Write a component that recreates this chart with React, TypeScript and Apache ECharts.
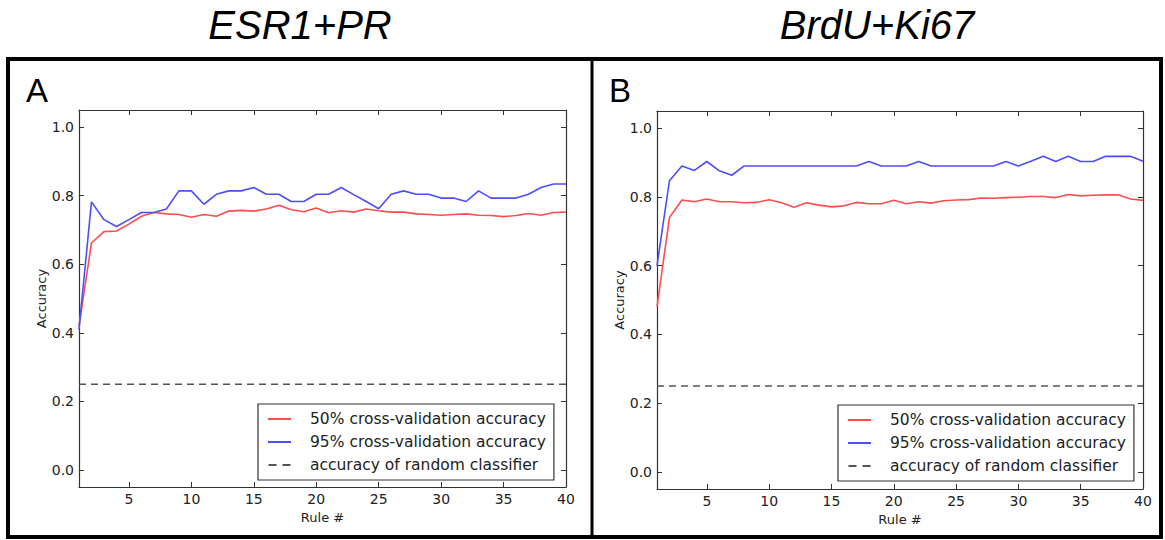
import React, { useEffect, useRef } from "react";
import * as echarts from "echarts";

const rules = [1, 2, 3, 4, 5, 6, 7, 8, 9, 10, 11, 12, 13, 14, 15, 16, 17, 18, 19, 20, 21, 22, 23, 24, 25, 26, 27, 28, 29, 30, 31, 32, 33, 34, 35, 36, 37, 38, 39, 40];

const esrAcc50 = [0.42, 0.662, 0.695, 0.697, 0.717, 0.74, 0.751, 0.747, 0.745, 0.737, 0.745, 0.74, 0.755, 0.757, 0.755, 0.761, 0.772, 0.759, 0.753, 0.764, 0.75, 0.756, 0.752, 0.761, 0.756, 0.752, 0.752, 0.747, 0.745, 0.743, 0.745, 0.747, 0.743, 0.742, 0.739, 0.742, 0.748, 0.743, 0.751, 0.752];
const esrAcc95 = [0.41, 0.782, 0.73, 0.71, 0.73, 0.751, 0.751, 0.761, 0.814, 0.814, 0.775, 0.804, 0.814, 0.814, 0.824, 0.804, 0.804, 0.783, 0.783, 0.804, 0.804, 0.824, 0.803, 0.783, 0.762, 0.804, 0.814, 0.804, 0.804, 0.793, 0.793, 0.783, 0.814, 0.793, 0.793, 0.793, 0.804, 0.824, 0.834, 0.834];
const brdAcc50 = [0.48, 0.74, 0.791, 0.786, 0.794, 0.786, 0.786, 0.783, 0.784, 0.792, 0.783, 0.77, 0.783, 0.776, 0.771, 0.774, 0.784, 0.78, 0.78, 0.79, 0.78, 0.786, 0.782, 0.789, 0.791, 0.792, 0.797, 0.796, 0.798, 0.799, 0.801, 0.801, 0.798, 0.807, 0.803, 0.805, 0.806, 0.806, 0.794, 0.79];
const brdAcc95 = [0.6, 0.847, 0.89, 0.877, 0.903, 0.876, 0.863, 0.89, 0.89, 0.89, 0.89, 0.89, 0.89, 0.89, 0.89, 0.89, 0.89, 0.903, 0.89, 0.89, 0.89, 0.903, 0.89, 0.89, 0.89, 0.89, 0.89, 0.89, 0.903, 0.89, 0.904, 0.918, 0.903, 0.918, 0.903, 0.903, 0.918, 0.918, 0.918, 0.904];
const randomRuleEnds = [1, 40];
const randomAcc = [0.25, 0.25];

const xTicks = [5, 10, 15, 20, 25, 30, 35, 40];
const yTicks = [0.0, 0.2, 0.4, 0.6, 0.8, 1.0];

const panelTitles = ["ESR1+PR", "BrdU+Ki67"];
const panelLetters = ["A", "B"];
const seriesNames = [
  "50% cross-validation accuracy",
  "95% cross-validation accuracy",
  "accuracy of random classifier",
];

const AXIS_COLOR = "#333";
const FONT = "DejaVu Sans";
const SOLID_ICON = "path://M0,0H23V2H0Z";
const DASH_ICON = "path://M0,0H8V2H0ZM14,0H22V2H14Z";

function zip(xs: number[], ys: number[]) {
  return xs.map((x, i) => [x, ys[i]]);
}

function xAxes(grid: number) {
  const common = {
    type: "value" as const,
    gridIndex: grid,
    min: 1,
    max: 40,
    splitLine: { show: false },
    axisLine: { show: true, onZero: false, lineStyle: { color: AXIS_COLOR, width: 1.2 } },
    axisTick: { show: true, inside: true, length: 5, customValues: xTicks, lineStyle: { color: AXIS_COLOR, width: 1 } },
  };
  return [
    {
      ...common,
      position: "bottom",
      axisLabel: { customValues: xTicks, color: "#222", fontSize: 14, fontFamily: FONT, margin: 5 },
      name: "Rule #",
      nameLocation: "middle",
      nameGap: 20,
      nameTextStyle: { color: "#222", fontSize: 13, fontFamily: FONT },
    },
    { ...common, position: "top", axisLabel: { show: false } },
  ];
}

function yAxes(grid: number) {
  const common = {
    type: "value" as const,
    gridIndex: grid,
    min: -0.05,
    max: 1.05,
    splitLine: { show: false },
    axisLine: { show: true, onZero: false, lineStyle: { color: AXIS_COLOR, width: 1.2 } },
    axisTick: { show: true, inside: true, length: 5, customValues: yTicks, lineStyle: { color: AXIS_COLOR, width: 1 } },
  };
  return [
    {
      ...common,
      position: "left",
      axisLabel: {
        customValues: yTicks,
        color: "#222",
        fontSize: 14,
        fontFamily: FONT,
        margin: 5,
        formatter: (v: number) => v.toFixed(1),
      },
      name: "Accuracy",
      nameLocation: "middle",
      nameGap: 30,
      nameTextStyle: { color: "#222", fontSize: 13, fontFamily: FONT },
    },
    { ...common, position: "right", axisLabel: { show: false } },
  ];
}

function panelSeries(axisBase: number, p50: number[], p95: number[]) {
  return [
    {
      name: seriesNames[0],
      type: "line",
      xAxisIndex: axisBase,
      yAxisIndex: axisBase,
      data: zip(rules, p50),
      symbol: "none",
      lineStyle: { color: "#ff4d4d", width: 1.6 },
      itemStyle: { color: "#ff4d4d" },
      z: 3,
    },
    {
      name: seriesNames[1],
      type: "line",
      xAxisIndex: axisBase,
      yAxisIndex: axisBase,
      data: zip(rules, p95),
      symbol: "none",
      lineStyle: { color: "#4d4dff", width: 1.6 },
      itemStyle: { color: "#4d4dff" },
      z: 4,
    },
    {
      name: seriesNames[2],
      type: "line",
      xAxisIndex: axisBase,
      yAxisIndex: axisBase,
      data: zip(randomRuleEnds, randomAcc),
      symbol: "none",
      lineStyle: { color: "#555", width: 1.5, type: [7, 5] },
      itemStyle: { color: "#555" },
      z: 2,
    },
  ];
}

function legendFor(left: number, top: number) {
  return {
    left,
    top,
    orient: "vertical",
    data: [
      { name: seriesNames[0], icon: SOLID_ICON },
      { name: seriesNames[1], icon: SOLID_ICON },
      { name: seriesNames[2], icon: DASH_ICON },
    ],
    selectedMode: false,
    backgroundColor: "#fff",
    borderColor: "#333",
    borderWidth: 1.2,
    borderRadius: 0,
    padding: [6, 8, 6, 10],
    itemGap: 5,
    itemWidth: 23,
    itemHeight: 2,
    itemStyle: { borderWidth: 0 },
    lineStyle: { width: 0 },
    textStyle: { fontFamily: FONT, fontSize: 15.5, color: "#222", lineHeight: 18, padding: [0, 0, 0, 14] },
  };
}

export default function App() {
  const ref = useRef<HTMLDivElement>(null);

  useEffect(() => {
    document.body.style.margin = "0";
    document.body.style.overflow = "hidden";
    const chart = echarts.init(ref.current!, undefined, { renderer: "svg" });
    chart.setOption({
      animation: false,
      backgroundColor: "#fff",
      grid: [
        { left: 79, top: 110, width: 487, height: 377 },
        { left: 657, top: 111, width: 486, height: 378 },
      ],
      xAxis: [...xAxes(0), ...xAxes(1)],
      yAxis: [...yAxes(0), ...yAxes(1)],
      legend: [legendFor(258, 404), legendFor(838, 405)],
      series: [...panelSeries(0, esrAcc50, esrAcc95), ...panelSeries(2, brdAcc50, brdAcc95)],
      graphic: [
        {
          type: "rect",
          shape: { x: 8, y: 59, width: 1153, height: 478 },
          style: { fill: "none", stroke: "#000", lineWidth: 4 },
          z: 10,
        },
        {
          type: "line",
          shape: { x1: 592, y1: 59, x2: 592, y2: 537 },
          style: { stroke: "#000", lineWidth: 3 },
          z: 10,
        },
        {
          type: "text",
          x: 300,
          y: 25,
          style: { text: panelTitles[0], font: 'italic 40px "Liberation Sans"', fill: "#000", align: "center", verticalAlign: "middle" },
        },
        {
          type: "text",
          x: 877,
          y: 25,
          style: { text: panelTitles[1], font: 'italic 40px "Liberation Sans"', fill: "#000", align: "center", verticalAlign: "middle" },
        },
        {
          type: "text",
          x: 26,
          y: 90,
          style: { text: panelLetters[0], font: '33px "Liberation Sans"', fill: "#000", align: "left", verticalAlign: "middle" },
        },
        {
          type: "text",
          x: 609,
          y: 90,
          style: { text: panelLetters[1], font: '33px "Liberation Sans"', fill: "#000", align: "left", verticalAlign: "middle" },
        },
      ],
    });
    return () => chart.dispose();
  }, []);

  return <div ref={ref} style={{ width: 1165, height: 540 }} />;
}
